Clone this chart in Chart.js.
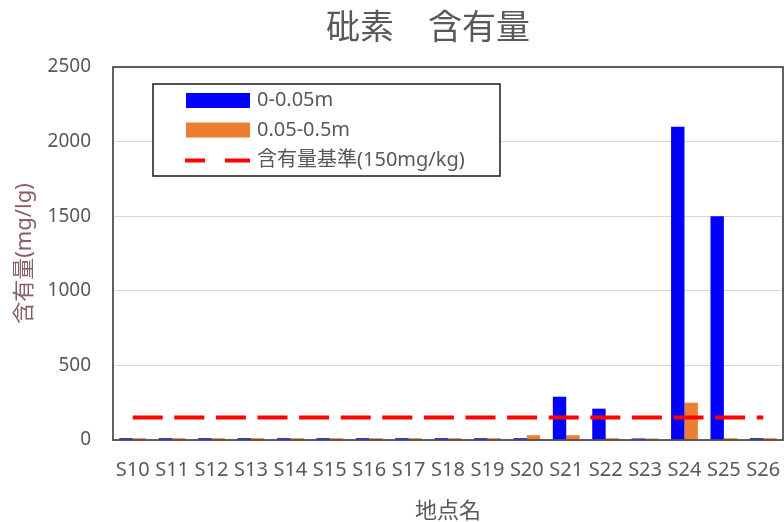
<!DOCTYPE html>
<html>
<head>
<meta charset="utf-8">
<script src="https://cdn.jsdelivr.net/npm/chart.js@4/dist/chart.umd.min.js"></script>
<style>
html,body{margin:0;padding:0;background:#fff;}
#wrap{width:784px;height:522px;}
</style>
</head>
<body>
<div id="wrap"><canvas id="c" width="784" height="522"></canvas></div>
<script>
const chartTitle = '砒素　含有量';
const categories = ['S10','S11','S12','S13','S14','S15','S16','S17','S18','S19','S20','S21','S22','S23','S24','S25','S26'];
const seriesShallow = [12,12,12,12,12,12,12,12,12,12,12,290,210,10,2100,1500,12];
const seriesDeep = [12,12,12,12,12,12,12,12,12,12,32,32,12,10,250,12,12];
const standardValue = [150,150,150,150,150,150,150,150,150,150,150,150,150,150,150,150,150];
const seriesLabels = ['0-0.05m','0.05-0.5m','含有量基準(150mg/kg)'];
const yTicks = [0,500,1000,1500,2000,2500];
const yTitle = '含有量(mg/lg)';
const xTitle = '地点名';

const FONT = "'Noto Sans', 'Noto Sans CJK JP', sans-serif";
const GREY = '#595959';

const framePlugin = {
  id: 'frame',
  afterDatasetsDraw(chart) {
    const {ctx, chartArea: a} = chart;
    ctx.save();
    ctx.strokeStyle = '#3a3a3a';
    ctx.lineWidth = 1.6;
    ctx.strokeRect(a.left, a.top, a.right - a.left, a.bottom - a.top);
    ctx.restore();
  }
};

const titlePlugin = {
  id: 'customTitle',
  afterDraw(chart) {
    const ctx = chart.ctx;
    ctx.save();
    ctx.font = "34px " + FONT;
    ctx.fillStyle = GREY;
    ctx.textAlign = 'center';
    ctx.textBaseline = 'middle';
    ctx.fillText(chartTitle, 428, 29);
    ctx.restore();
  }
};

const legendPlugin = {
  id: 'boxLegend',
  afterDraw(chart) {
    const ctx = chart.ctx;
    const ds = chart.data.datasets;
    ctx.save();
    ctx.fillStyle = '#ffffff';
    ctx.fillRect(153, 84, 347, 92);
    ctx.strokeStyle = '#1a1a1a';
    ctx.lineWidth = 1.5;
    ctx.strokeRect(153, 84, 347, 92);
    const rows = [100.5, 130, 160.5];
    ctx.font = "20px " + FONT;
    ctx.textBaseline = 'middle';
    ctx.textAlign = 'left';
    ds.forEach((d, i) => {
      const y = rows[i];
      if (d.type === 'line') {
        ctx.strokeStyle = d.borderColor;
        ctx.lineWidth = 4;
        ctx.beginPath();
        ctx.moveTo(185, y); ctx.lineTo(205, y);
        ctx.moveTo(225, y); ctx.lineTo(250, y);
        ctx.stroke();
      } else {
        ctx.fillStyle = d.backgroundColor;
        ctx.fillRect(186, y - 7.5, 64, 15);
      }
      ctx.fillStyle = GREY;
      ctx.fillText(d.label, 257, y);
    });
    ctx.restore();
  }
};

new Chart(document.getElementById('c'), {
  data: {
    labels: categories,
    datasets: [
      {type: 'bar', label: seriesLabels[0], data: seriesShallow, backgroundColor: '#0000FF', order: 1,
       categoryPercentage: 0.68, barPercentage: 1.0},
      {type: 'bar', label: seriesLabels[1], data: seriesDeep, backgroundColor: '#ED7D31', order: 1,
       categoryPercentage: 0.68, barPercentage: 1.0},
      {type: 'line', label: seriesLabels[2], data: standardValue, borderColor: '#FF0000', backgroundColor: '#FF0000',
       borderWidth: 4, borderDash: [30, 11.6], pointRadius: 0, fill: false, order: 0, borderCapStyle: 'butt'}
    ]
  },
  options: {
    responsive: false,
    animation: false,
    events: [],
    layout: {padding: {top: 67, right: 1, bottom: 0, left: 0}},
    plugins: {
      legend: {display: false},
      tooltip: {enabled: false},
      title: {display: false}
    },
    scales: {
      x: {
        grid: {display: false, drawTicks: false},
        border: {display: false},
        ticks: {color: GREY, font: {family: FONT, size: 20}, padding: 18, maxRotation: 0, autoSkip: false},
        title: {display: true, text: xTitle, color: GREY, font: {family: FONT, size: 22}, padding: {top: 0, bottom: -3}},
        afterFit(scale) { scale.height = 82; scale.paddingLeft = 0; scale.paddingRight = 0; }
      },
      y: {
        min: 0, max: 2500,
        afterBuildTicks(scale) { scale.ticks = yTicks.map(v => ({value: v})); },
        grid: {color: '#d9d9d9', lineWidth: 1, drawTicks: false},
        border: {display: false},
        ticks: {color: GREY, font: {family: FONT, size: 19}, padding: 22, callback: v => String(v)},
        title: {display: true, text: yTitle, color: '#8B5F65', font: {family: FONT, size: 22}, padding: {top: 12, bottom: 0}},
        afterFit(scale) { scale.width = 113; }
      }
    }
  },
  plugins: [framePlugin, legendPlugin, titlePlugin]
});
</script>
</body>
</html>
